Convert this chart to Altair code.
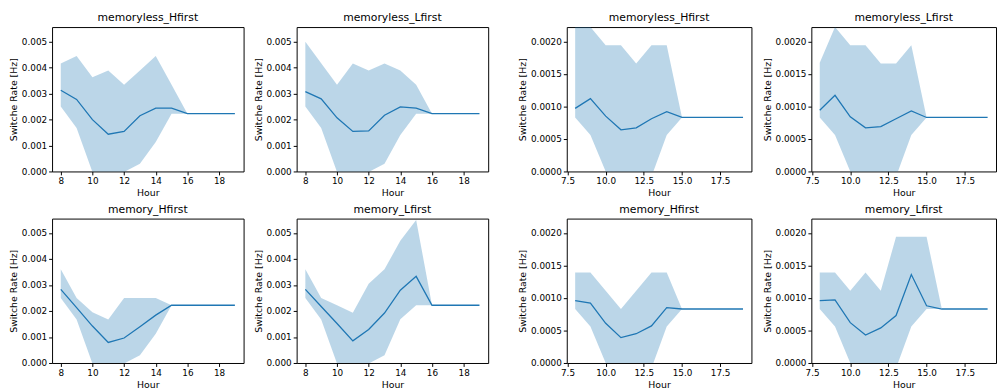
import altair as alt
import pandas as pd

hours = list(range(8, 20))

# ---- left figure (columns 1-2) ----
t1 = "memoryless_Hfirst"
m1 = [0.00312, 0.00277, 0.00199, 0.00143, 0.00154, 0.00214, 0.00243, 0.00243, 0.00222, 0.00222, 0.00222, 0.00222]
u1 = [0.00415, 0.00444, 0.00362, 0.00388, 0.00333, 0.00388, 0.00444, 0.00333, 0.00222, 0.00222, 0.00222, 0.00222]
l1 = [0.00250, 0.00167, -0.00002, -0.00060, -0.00002, 0.00030, 0.00113, 0.00222, 0.00222, 0.00222, 0.00222, 0.00222]

t2 = "memoryless_Lfirst"
m2 = [0.00307, 0.00279, 0.00206, 0.00154, 0.00156, 0.00216, 0.00248, 0.00243, 0.00222, 0.00222, 0.00222, 0.00222]
u2 = [0.00499, 0.00416, 0.00333, 0.00415, 0.00388, 0.00415, 0.00388, 0.00333, 0.00222, 0.00222, 0.00222, 0.00222]
l2 = [0.00250, 0.00167, -0.00002, -0.00060, -0.00002, 0.00030, 0.00140, 0.00222, 0.00222, 0.00222, 0.00222, 0.00222]

t5 = "memory_Hfirst"
m5 = [0.00283, 0.00213, 0.00142, 0.00079, 0.00096, 0.00139, 0.00184, 0.00222, 0.00222, 0.00222, 0.00222, 0.00222]
u5 = [0.00360, 0.00250, 0.00195, 0.00167, 0.00250, 0.00250, 0.00250, 0.00222, 0.00222, 0.00222, 0.00222, 0.00222]
l5 = [0.00250, 0.00167, -0.00002, -0.00060, -0.00002, 0.00030, 0.00112, 0.00222, 0.00222, 0.00222, 0.00222, 0.00222]

t6 = "memory_Lfirst"
m6 = [0.00283, 0.00217, 0.00152, 0.00085, 0.00129, 0.00192, 0.00280, 0.00333, 0.00222, 0.00222, 0.00222, 0.00222]
u6 = [0.00360, 0.00250, 0.00222, 0.00193, 0.00305, 0.00360, 0.00470, 0.00550, 0.00222, 0.00222, 0.00222, 0.00222]
l6 = [0.00250, 0.00167, -0.00002, -0.00060, -0.00002, 0.00030, 0.00168, 0.00222, 0.00222, 0.00222, 0.00222, 0.00222]

# ---- right figure (columns 3-4) ----
t3 = "memoryless_Hfirst"
m3 = [0.00097, 0.00112, 0.00085, 0.00064, 0.00067, 0.00081, 0.00092, 0.00083, 0.00083, 0.00083, 0.00083, 0.00083]
u3 = [0.00280, 0.00222, 0.00194, 0.00194, 0.00166, 0.00194, 0.00194, 0.00083, 0.00083, 0.00083, 0.00083, 0.00083]
l3 = [0.00083, 0.00056, 0.00000, -0.00030, -0.00030, -0.00008, 0.00056, 0.00083, 0.00083, 0.00083, 0.00083, 0.00083]

t4 = "memoryless_Lfirst"
m4 = [0.00094, 0.00117, 0.00084, 0.00067, 0.00069, 0.00081, 0.00093, 0.00083, 0.00083, 0.00083, 0.00083, 0.00083]
u4 = [0.00167, 0.00222, 0.00194, 0.00194, 0.00166, 0.00166, 0.00194, 0.00083, 0.00083, 0.00083, 0.00083, 0.00083]
l4 = [0.00083, 0.00056, 0.00000, -0.00030, -0.00030, -0.00008, 0.00056, 0.00083, 0.00083, 0.00083, 0.00083, 0.00083]

t7 = "memory_Hfirst"
m7 = [0.00096, 0.00092, 0.00061, 0.00039, 0.00045, 0.00057, 0.00085, 0.00083, 0.00083, 0.00083, 0.00083, 0.00083]
u7 = [0.00139, 0.00139, 0.00111, 0.00083, 0.00111, 0.00139, 0.00139, 0.00083, 0.00083, 0.00083, 0.00083, 0.00083]
l7 = [0.00083, 0.00056, 0.00000, -0.00030, -0.00030, -0.00008, 0.00056, 0.00083, 0.00083, 0.00083, 0.00083, 0.00083]

t8 = "memory_Lfirst"
m8 = [0.00096, 0.00097, 0.00062, 0.00043, 0.00054, 0.00073, 0.00136, 0.00088, 0.00083, 0.00083, 0.00083, 0.00083]
u8 = [0.00139, 0.00139, 0.00111, 0.00139, 0.00111, 0.00194, 0.00194, 0.00194, 0.00083, 0.00083, 0.00083, 0.00083]
l8 = [0.00083, 0.00056, 0.00000, -0.00030, -0.00030, -0.00008, 0.00056, 0.00083, 0.00083, 0.00083, 0.00083, 0.00083]

left_yticks = [0.0, 0.001, 0.002, 0.003, 0.004, 0.005]
right_yticks = [0.0, 0.0005, 0.001, 0.0015, 0.002]
left_xticks = [8, 10, 12, 14, 16, 18]
right_xticks = [7.5, 10.0, 12.5, 15.0, 17.5]

C0 = "#1f77b4"


def panel(title, mean, upper, lower, kind):
    df = pd.DataFrame({"Hour": hours, "mean": mean, "upper": upper, "lower": lower})
    if kind == "left":
        ydom, yticks, yfmt = [0, 0.00555], left_yticks, ".3f"
        xticks, xfmt, w = left_xticks, "d", 195
    else:
        ydom, yticks, yfmt = [0, 0.00222], right_yticks, ".4f"
        xticks, xfmt, w = right_xticks, ".1f", 188
    xs = alt.Scale(domain=[7.45, 19.55], nice=False, zero=False)
    ys = alt.Scale(domain=ydom, nice=False, zero=False)
    xax = alt.Axis(values=xticks, format=xfmt, title="Hour")
    yax = alt.Axis(values=yticks, format=yfmt, title="Switche Rate [Hz]")
    band = alt.Chart(df).mark_area(color=C0, opacity=0.3, clip=True).encode(
        x=alt.X("Hour:Q", scale=xs, axis=xax),
        y=alt.Y("lower:Q", scale=ys, axis=yax),
        y2="upper:Q",
    )
    line = alt.Chart(df).mark_line(color=C0, strokeWidth=1.3, clip=True).encode(
        x=alt.X("Hour:Q", scale=xs, axis=xax),
        y=alt.Y("mean:Q", scale=ys, axis=yax),
    )
    return alt.layer(band, line).properties(width=w, height=147, title=title)


colA = alt.vconcat(panel(t1, m1, u1, l1, "left"), panel(t5, m5, u5, l5, "left"), spacing=48, bounds="flush")
colB = alt.vconcat(panel(t2, m2, u2, l2, "left"), panel(t6, m6, u6, l6, "left"), spacing=48, bounds="flush")
colC = alt.vconcat(panel(t3, m3, u3, l3, "right"), panel(t7, m7, u7, l7, "right"), spacing=48, bounds="flush")
colD = alt.vconcat(panel(t4, m4, u4, l4, "right"), panel(t8, m8, u8, l8, "right"), spacing=48, bounds="flush")

chart = alt.hconcat(
    alt.hconcat(colA, colB, spacing=8),
    alt.hconcat(colC, colD, spacing=9),
    spacing=28,
).properties(
    padding={"left": 8, "top": 8, "right": 0, "bottom": 0},
    background="white",
).configure_view(
    stroke="black", strokeWidth=1
).configure_axis(
    labelFont="DejaVu Sans", titleFont="DejaVu Sans",
    labelFontSize=9, titleFontSize=9.5, titleFontWeight="normal",
    labelColor="black", titleColor="black", tickColor="black",
    domain=False, grid=False, tickSize=3.5, labelPadding=2,
    labelFlush=False, labelOverlap=False,
).configure_axisY(
    titlePadding=3
).configure_axisX(
    titlePadding=2
).configure_title(
    font="DejaVu Sans", fontSize=11, fontWeight="normal", color="black", offset=4
)

chart.save("out.html", embed_options={"renderer": "svg", "actions": False})
